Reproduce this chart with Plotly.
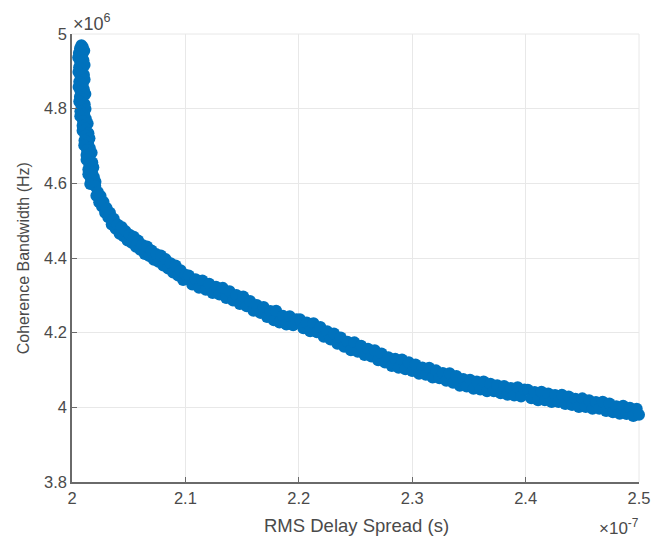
import plotly.graph_objects as go

# RMS delay spread (units of 1e-7 s) and coherence bandwidth (units of 1e6 Hz)
delay_spread_e7 = [
    # steep region near 2.0e-7 s
    2.0083, 2.0095, 2.0071, 2.0108, 2.0061, 2.0091, 2.0055, 2.0101, 2.0073, 2.0111,
    2.0063, 2.0085, 2.0057, 2.0105, 2.0077, 2.0111, 2.0064, 2.0094, 2.0058, 2.0104,
    2.0076, 2.0118, 2.0070, 2.0092, 2.0064, 2.0112, 2.0084, 2.0119, 2.0074, 2.0107,
    2.0073, 2.0122, 2.0097, 2.0138, 2.0093, 2.0118, 2.0093, 2.0145, 2.0120, 2.0154,
    2.0110, 2.0142, 2.0108, 2.0157, 2.0132, 2.0173, 2.0128, 2.0153, 2.0128, 2.0179,
    2.0154, 2.0188, 2.0144, 2.0177, 2.0144, 2.0193, 2.0167, 2.0207, 2.0161,
    # knee
    2.0205, 2.0215, 2.0228, 2.0240, 2.0252, 2.0265, 2.0278, 2.0292, 2.0305, 2.0320,
    2.0335, 2.0350, 2.0368, 2.0385, 2.0402, 2.0420, 2.0438, 2.0455, 2.0472, 2.0490,
    2.0508, 2.0526, 2.0545, 2.0564, 2.0583, 2.0602, 2.0622, 2.0642, 2.0662, 2.0682,
    2.0702, 2.0722, 2.0742, 2.0763, 2.0784, 2.0805, 2.0826, 2.0848, 2.0870, 2.0892,
    2.0914, 2.0936, 2.0958, 2.0980, 2.1000,
    # 2.1 - 2.2
    2.103, 2.106, 2.109, 2.112, 2.115, 2.118, 2.121, 2.124, 2.127, 2.130,
    2.133, 2.136, 2.139, 2.142, 2.145, 2.148, 2.151, 2.154, 2.157, 2.160,
    2.163, 2.166, 2.169, 2.172, 2.175, 2.178, 2.180, 2.183, 2.186, 2.189,
    2.192, 2.195, 2.198,
    # 2.2 - 2.3
    2.201, 2.204, 2.207, 2.210, 2.213, 2.216, 2.219, 2.222, 2.225, 2.228,
    2.231, 2.234, 2.237, 2.240, 2.243, 2.246, 2.249, 2.252, 2.255, 2.258,
    2.261, 2.264, 2.267, 2.270, 2.273, 2.276, 2.279, 2.282, 2.285, 2.288,
    2.291, 2.294, 2.297,
    # 2.3 - 2.4
    2.300, 2.303, 2.306, 2.309, 2.312, 2.315, 2.318, 2.321, 2.324, 2.327,
    2.330, 2.333, 2.336, 2.339, 2.342, 2.345, 2.348, 2.351, 2.354, 2.357,
    2.360, 2.363, 2.366, 2.369, 2.372, 2.375, 2.378, 2.381, 2.384, 2.387,
    2.390, 2.393, 2.396, 2.399,
    # 2.4 - 2.5
    2.402, 2.405, 2.408, 2.411, 2.414, 2.417, 2.420, 2.423, 2.426, 2.429,
    2.432, 2.435, 2.438, 2.441, 2.444, 2.447, 2.450, 2.453, 2.456, 2.459,
    2.462, 2.465, 2.468, 2.471, 2.474, 2.477, 2.480, 2.483, 2.486, 2.489,
    2.492, 2.495, 2.498, 2.500,
]

coherence_bw_e6 = [
    4.970, 4.965, 4.962, 4.955, 4.949, 4.944, 4.937, 4.930, 4.924, 4.917,
    4.911, 4.904, 4.898, 4.891, 4.885, 4.878, 4.872, 4.865, 4.858, 4.852,
    4.845, 4.839, 4.832, 4.826, 4.819, 4.812, 4.806, 4.799, 4.793, 4.786,
    4.780, 4.773, 4.767, 4.760, 4.754, 4.747, 4.741, 4.734, 4.728, 4.721,
    4.715, 4.708, 4.702, 4.695, 4.689, 4.682, 4.676, 4.669, 4.663, 4.656,
    4.650, 4.643, 4.637, 4.630, 4.624, 4.617, 4.611, 4.604, 4.598,
    4.593, 4.567, 4.577, 4.549, 4.566, 4.538, 4.550, 4.521, 4.534, 4.509,
    4.521, 4.490, 4.505, 4.478, 4.490, 4.465, 4.483, 4.458, 4.472, 4.447,
    4.462, 4.441, 4.457, 4.430, 4.447, 4.422, 4.435, 4.411, 4.431, 4.405,
    4.420, 4.395, 4.411, 4.390, 4.407, 4.380, 4.397, 4.372, 4.386, 4.361,
    4.380, 4.353, 4.367, 4.341, 4.355,
    4.353, 4.329, 4.343, 4.320, 4.340, 4.315, 4.331, 4.306, 4.323, 4.302,
    4.320, 4.293, 4.311, 4.286, 4.301, 4.277, 4.297, 4.271, 4.285, 4.259,
    4.274, 4.253, 4.269, 4.242, 4.258, 4.233, 4.259, 4.227, 4.245, 4.222,
    4.244, 4.220, 4.236,
    4.236, 4.212, 4.227, 4.204, 4.225, 4.201, 4.215, 4.189, 4.204, 4.182,
    4.198, 4.170, 4.187, 4.162, 4.176, 4.153, 4.174, 4.149, 4.165, 4.140,
    4.157, 4.136, 4.153, 4.126, 4.144, 4.120, 4.134, 4.111, 4.130, 4.106,
    4.128, 4.102, 4.121,
    4.097, 4.115, 4.090, 4.107, 4.087, 4.106, 4.080, 4.099, 4.078, 4.092,
    4.071, 4.091, 4.066, 4.084, 4.058, 4.076, 4.056, 4.074, 4.050, 4.069,
    4.048, 4.069, 4.043, 4.063, 4.043, 4.059, 4.038, 4.057, 4.034, 4.052,
    4.032, 4.054, 4.029, 4.048,
    4.047, 4.024, 4.041, 4.019, 4.042, 4.019, 4.037, 4.014, 4.033, 4.014,
    4.034, 4.009, 4.029, 4.006, 4.023, 4.001, 4.024, 4.001, 4.019, 3.996,
    4.014, 3.996, 4.015, 3.990, 4.010, 3.987, 4.003, 3.983, 4.004, 3.982,
    3.999, 3.977, 3.996, 3.980,
]

x_ticks = [2.0, 2.1, 2.2, 2.3, 2.4, 2.5]
x_tick_labels = ["2", "2.1", "2.2", "2.3", "2.4", "2.5"]
y_ticks = [3.8, 4.0, 4.2, 4.4, 4.6, 4.8, 5.0]
y_tick_labels = ["3.8", "4", "4.2", "4.4", "4.6", "4.8", "5"]

FONT = "Liberation Sans, Arial, Helvetica, sans-serif"
TEXT = "#4a4a4a"
GRID = "#e8e8e8"
AXIS = "#6a6a6a"

fig = go.Figure(
    go.Scatter(
        x=delay_spread_e7,
        y=coherence_bw_e6,
        mode="markers",
        marker=dict(color="#0072BD", size=12, line=dict(width=0)),
        cliponaxis=False,
        showlegend=False,
    )
)

axis_common = dict(
    showgrid=True,
    gridcolor=GRID,
    gridwidth=1,
    showline=True,
    linecolor=AXIS,
    linewidth=1.5,
    ticks="inside",
    ticklen=5,
    tickcolor=AXIS,
    zeroline=False,
    automargin=False,
    tickfont=dict(family=FONT, size=16.5, color=TEXT),
)

fig.update_xaxes(range=[2.0, 2.5], tickvals=x_ticks, ticktext=x_tick_labels, **axis_common)
fig.update_yaxes(range=[3.8, 5.0], tickvals=y_ticks, ticktext=y_tick_labels, **axis_common)

# top and right box edges drawn in grid colour
fig.add_shape(type="line", xref="paper", yref="paper", x0=0, x1=1, y0=1, y1=1,
              line=dict(color=GRID, width=1), layer="below")
fig.add_shape(type="line", xref="paper", yref="paper", x0=1, x1=1, y0=0, y1=1,
              line=dict(color=GRID, width=1), layer="below")

# axis titles
fig.add_annotation(xref="paper", yref="paper", x=0.502, y=-0.098, xanchor="center", yanchor="middle",
                   text="RMS Delay Spread (s)", showarrow=False,
                   font=dict(family=FONT, size=18.5, color=TEXT))
fig.add_annotation(xref="paper", yref="paper", x=-0.086, y=0.5, xanchor="center", yanchor="middle",
                   text="Coherence Bandwidth (Hz)", showarrow=False, textangle=-90,
                   font=dict(family=FONT, size=16, color=TEXT))

# axis exponent labels
fig.add_annotation(xref="paper", yref="paper", x=0, y=1, xanchor="left", yanchor="bottom",
                   text="×10<sup>6</sup>", showarrow=False, xshift=-1, yshift=-2,
                   font=dict(family=FONT, size=18, color=TEXT))
fig.add_annotation(xref="paper", yref="paper", x=1, y=-0.1, xanchor="right", yanchor="middle",
                   text="×10<sup>-7</sup>", showarrow=False, xshift=2,
                   font=dict(family=FONT, size=17, color=TEXT))

fig.update_layout(
    width=653,
    height=540,
    margin=dict(l=72, r=14, t=34, b=58),
    paper_bgcolor="white",
    plot_bgcolor="white",
    font=dict(family=FONT, color=TEXT),
)

fig.write_html("out.html")
